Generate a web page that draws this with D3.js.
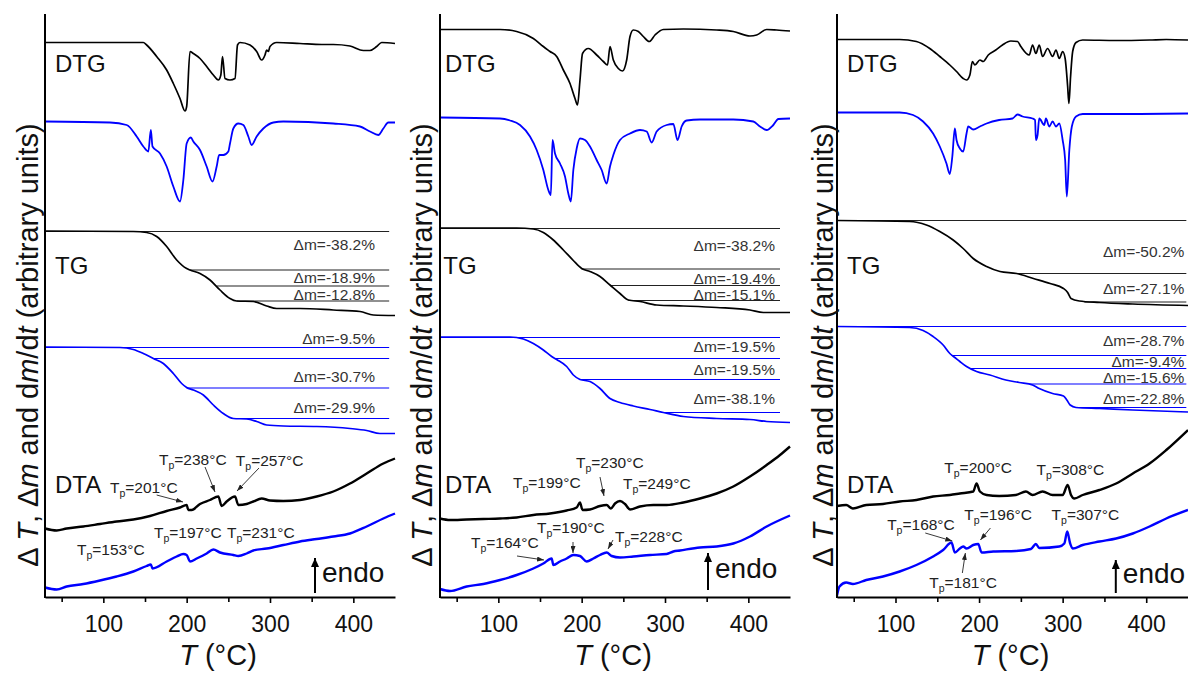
<!DOCTYPE html>
<html><head><meta charset="utf-8">
<script src="https://cdn.jsdelivr.net/npm/d3@7"></script>
<style>body{margin:0;background:#fff}svg{display:block;font-family:"Liberation Sans",Arial,sans-serif}</style>
</head><body><svg id="c" width="1188" height="673"></svg>
<script>
// ---------- axis / tick data ----------
const xDomain = [30, 450];
const yDomain = [0, 116.6];           // arbitrary units
const xTicks = [100, 200, 300, 400];
const xMinorTicks = [50, 150, 250, 350];

// ---------- Panel 1 ----------
const p1DtgBlack = [[30,110.9],[148,110.9],[152,110.4],[164,108.1],[176,105.4],[184,102.7],[192,99.7],[198,97.2],[200,98.1],[204,109.1],[208,108.7],[216,107.7],[224,106.1],[232,104.4],[238,103.4],[241,104.4],[243,108.1],[246,103.7],[252,103.4],[258,103.7],[261,110.4],[264,110.9],[276,110.4],[284,109.1],[290,107.4],[294,108.4],[296,109.4],[298,109.1],[300,110.1],[308,110.9],[336,110.7],[362,110.5],[376,110.5],[396,110.2],[412,109.3],[420,109.3],[428,110.1],[434,110.9],[450,110.7]];
const p1DtgBlue = [[30,95.1],[108,94.9],[128,94.4],[140,92.1],[148,90.1],[154,89.1],[157,93.4],[159,90.1],[168,88.7],[176,86.1],[184,82.1],[192,79.1],[196,83.4],[200,90.7],[205,91.9],[208,91.1],[216,89.4],[224,86.1],[231,83.1],[236,86.1],[239,88.4],[244,88.4],[250,89.1],[252,90.7],[256,93.7],[262,94.7],[268,94.4],[274,92.1],[278,90.4],[284,92.1],[292,93.7],[304,94.9],[316,95.1],[376,94.7],[408,94.1],[420,93.1],[430,92.4],[436,93.7],[442,94.9],[450,94.9]];
const p1TgBlack = [[30,73.2],[136,73.1],[152,72.9],[164,72.1],[176,70.1],[188,67.4],[200,65.7],[204,65.4],[216,64.7],[228,63.4],[240,61.4],[252,59.7],[260,59.2],[280,59.1],[296,58.2],[308,57.7],[336,57.7],[376,57.4],[408,57.1],[424,56.4],[450,56.3]];
const p1TgBlue = [[30,50.0],[120,49.9],[136,49.5],[148,48.7],[160,47.7],[172,46.7],[184,44.7],[194,42.7],[200,41.9],[208,41.4],[220,40.4],[232,38.4],[244,36.7],[256,35.7],[272,35.6],[284,35.1],[296,34.4],[316,34.2],[356,34.1],[396,33.7],[416,33.3],[432,32.7],[450,32.7]];
const p1DtaBlack = [[30,13.7],[44,13.3],[56,13.7],[76,14.1],[96,14.6],[116,15.1],[136,15.5],[156,16.2],[176,17.2],[192,17.9],[200,18.4],[202,17.4],[206,17.4],[216,18.6],[228,19.4],[238,20.1],[242,18.2],[248,19.1],[258,20.1],[262,18.4],[272,18.6],[280,19.1],[290,19.7],[300,19.3],[316,19.2],[336,19.4],[356,20.1],[376,21.1],[396,22.7],[416,24.7],[436,26.7],[450,27.7]];
const p1DtaBlue = [[30,1.9],[44,1.5],[56,2.1],[76,2.6],[96,3.3],[116,4.1],[136,5.1],[152,6.2],[157,6.5],[159,5.7],[176,7.1],[188,8.1],[196,8.6],[200,8.4],[204,7.1],[212,7.7],[224,8.7],[232,9.5],[240,8.9],[256,8.4],[262,8.2],[272,8.7],[280,9.3],[296,9.7],[316,10.4],[336,11.1],[356,11.6],[376,12.1],[396,12.7],[416,14.1],[436,15.7],[450,16.7]];
const p1StepsBlack = [[30,73.1],[204,65.4],[236,62.2],[260,59.2]];
const p1StepsBlue = [[30,49.9],[160,47.7],[200,41.8],[256,35.7]];
const p1MassLossBlack = ["-38.2", "-18.9", "-12.8"];
const p1MassLossBlue = ["-9.5", "-30.7", "-29.9"];
const p1PeakTemps = ["201", "238", "257", "197", "231", "153"];

// ---------- Panel 2 ----------
const p2DtgBlack = [[30,113.5],[102,113.5],[122,113.1],[142,111.7],[154,110.1],[162,109.1],[170,108.1],[178,105.4],[186,102.7],[192,99.7],[195,98.4],[198,103.4],[201,108.7],[208,109.7],[218,108.4],[226,107.1],[231,106.4],[234,110.1],[238,107.4],[244,105.7],[249,105.2],[254,107.4],[258,112.1],[262,113.4],[268,113.1],[274,112.1],[281,111.1],[288,112.4],[298,113.5],[322,113.6],[362,113.4],[382,113.1],[402,112.2],[410,112.4],[422,113.5],[434,113.4],[450,113.2]];
const p2DtgBlue = [[30,95.9],[102,95.7],[114,95.3],[126,94.4],[138,92.1],[146,89.4],[154,85.4],[160,81.4],[163,80.4],[165,91.4],[168,88.7],[174,86.7],[180,84.1],[184,80.7],[187,79.1],[190,85.4],[194,89.7],[198,91.7],[204,91.4],[210,90.1],[218,87.4],[224,85.4],[230,82.7],[234,86.1],[238,88.4],[246,91.4],[258,92.7],[270,93.4],[278,93.1],[284,90.9],[290,93.1],[302,94.4],[310,94.6],[315,91.4],[320,94.1],[326,95.3],[342,95.5],[382,95.5],[406,95.1],[414,94.1],[422,93.4],[430,94.4],[436,95.6],[450,95.7]];
const p2TgBlack = [[30,73.8],[122,73.8],[142,73.6],[154,72.9],[166,71.4],[178,69.4],[190,67.3],[200,65.7],[210,65.1],[222,64.1],[234,62.4],[246,60.7],[256,59.4],[270,59.1],[290,58.4],[322,58.2],[362,57.9],[402,57.4],[418,56.9],[450,56.9]];
const p2TgBlue = [[30,52.0],[114,52.0],[130,51.6],[142,50.7],[154,49.4],[164,48.1],[170,47.5],[182,46.1],[190,44.4],[198,43.5],[210,43.1],[222,41.7],[234,39.7],[246,38.9],[262,38.2],[282,37.5],[298,36.9],[322,36.1],[362,35.7],[402,35.5],[422,35.1],[450,34.9]];
const p2DtaBlack = [[30,15.7],[42,15.4],[62,15.5],[82,15.6],[102,15.7],[122,15.9],[142,16.4],[162,16.7],[182,17.3],[194,17.9],[198,18.9],[201,17.4],[210,17.5],[222,18.2],[230,18.4],[235,17.7],[240,18.7],[246,19.2],[252,18.6],[258,17.5],[270,18.1],[286,18.4],[302,18.4],[322,18.9],[342,19.7],[362,20.7],[382,22.1],[402,24.1],[422,26.4],[438,28.4],[450,30.1]];
const p2DtaBlue = [[30,1.6],[42,1.2],[62,2.1],[82,2.6],[102,3.4],[122,4.4],[142,5.7],[154,6.7],[164,7.7],[166,6.4],[174,7.1],[182,7.7],[190,8.4],[198,8.2],[206,7.1],[214,7.7],[222,8.4],[230,8.9],[236,8.2],[246,7.9],[262,8.1],[282,8.4],[302,8.6],[310,9.1],[318,9.3],[342,9.9],[362,10.1],[382,10.7],[402,12.1],[422,14.1],[450,16.3]];
const p2StepsBlack = [[30,73.7],[200,65.6],[234,62.3],[256,59.3]];
const p2StepsBlue = [[30,51.9],[168,47.7],[198,43.5],[298,36.9]];
const p2MassLossBlack = ["-38.2", "-19.4", "-15.1"];
const p2MassLossBlue = ["-19.5", "-19.5", "-38.1"];
const p2PeakTemps = ["199", "230", "249", "164", "190", "228"];

// ---------- Panel 3 ----------
const p3DtgBlack = [[30,111.5],[105,111.5],[125,111.1],[141,109.7],[153,108.1],[165,106.4],[173,105.1],[181,103.7],[185,103.4],[189,104.4],[192,107.1],[195,106.4],[201,107.4],[205,107.1],[211,108.4],[220,109.4],[228,110.4],[238,111.2],[246,111.1],[250,110.1],[260,108.4],[264,110.4],[268,108.7],[272,110.4],[276,108.1],[282,109.7],[288,108.1],[292,109.4],[296,107.7],[300,109.1],[303,107.7],[306,102.1],[307.5,98.7],[309.5,104.1],[312,109.1],[316,110.9],[324,111.4],[364,111.3],[404,111.4],[424,111.5],[450,111.4]];
const p3DtgBlue = [[30,96.9],[105,96.9],[121,96.4],[133,95.1],[145,92.7],[153,90.1],[161,86.7],[165,84.6],[168,88.1],[171,93.7],[173,91.4],[177,89.7],[181,89.1],[185,92.7],[187,94.1],[193,93.5],[201,94.1],[209,94.7],[224,95.4],[240,95.7],[246,96.5],[252,96.1],[264,95.7],[267,95.4],[268,91.4],[270,92.4],[272,95.7],[278,94.4],[280,95.7],[284,94.1],[288,95.1],[292,94.1],[296,94.7],[300,91.4],[303,87.4],[305,80.1],[308,89.4],[311,94.1],[316,96.1],[324,96.6],[384,96.6],[450,96.7]];
const p3TgBlack = [[30,75.3],[117,75.1],[137,74.4],[153,73.1],[169,71.4],[181,69.7],[193,67.7],[209,66.1],[225,65.1],[245,64.7],[265,63.7],[285,62.7],[301,61.7],[306,60.9],[310,59.7],[320,59.2],[344,58.9],[384,58.6],[450,58.3]];
const p3TgBlue = [[30,54.1],[117,53.9],[133,53.3],[145,52.1],[157,50.4],[165,48.7],[171,47.9],[177,47.1],[185,46.1],[197,45.1],[213,44.4],[232,43.4],[248,42.9],[264,42.4],[272,41.7],[288,40.7],[301,40.2],[305,39.4],[309,38.4],[316,37.9],[344,37.7],[384,37.4],[450,37.0]];
const p3DtaBlack = [[30,18.2],[41,18.4],[49,17.7],[65,18.4],[85,18.6],[105,19.1],[125,19.4],[145,20.1],[165,20.4],[177,20.7],[193,21.1],[197,22.7],[201,21.1],[209,20.4],[224,20.2],[244,20.4],[256,21.1],[264,20.4],[276,21.1],[288,20.4],[300,20.4],[306,22.4],[310,20.4],[314,19.7],[324,20.4],[344,21.4],[364,22.7],[384,24.7],[404,26.7],[424,29.4],[450,33.4]];
const p3DtaBlue = [[30,0.3],[33,2.1],[41,2.9],[49,2.6],[65,3.4],[85,4.1],[105,5.1],[125,6.4],[145,8.1],[157,9.4],[167,10.9],[171,8.9],[177,9.7],[181,10.1],[185,9.7],[193,10.4],[199,10.6],[203,8.9],[217,9.1],[244,9.2],[262,9.6],[268,10.6],[272,9.8],[296,10.1],[302,10.7],[305.5,13.1],[309,10.7],[312,9.7],[324,10.4],[344,11.1],[364,11.7],[384,12.7],[404,14.1],[424,15.7],[450,17.4]];
const p3StepsBlack = [[30,75.3],[245,64.7],[326,59.0]];
const p3StepsBlue = [[30,54.1],[167,48.3],[189,45.7],[260,42.6],[316,37.9]];
const p3MassLossBlack = ["-50.2", "-27.1"];
const p3MassLossBlue = ["-28.7", "-9.4", "-15.6", "-22.8"];
const p3PeakTemps = ["200", "308", "168", "196", "307", "181"];

// ---------- layout (not data) ----------
const TOP = 14, BOTTOM = 597;
const panels = [
  {left:45, right:395, titleX:38, stepEnd:443,
   dtgK:p1DtgBlack, dtgB:p1DtgBlue, tgK:p1TgBlack, tgB:p1TgBlue, dtaK:p1DtaBlack, dtaB:p1DtaBlue,
   stepsK:p1StepsBlack, stepsB:p1StepsBlue,
   dmK:p1MassLossBlack, dmB:p1MassLossBlue, dmT:426, dmKv:[69.4,62.8,59.4], dmBv:[50.6,43.0,36.8],
   labelT:42, tgLabelT:42, tp:p1PeakTemps,
   tpPos:[[108,20.8,[164,20.4,195.6,19.0]],[166.8,26.4,[222,26.0,234,21.0]],[259,26.2,[286.8,25.8,260.4,21.2]],
          [160.8,11.8,null],[248.4,11.8,null],[68.4,8.4,null]],
   endo:[354,0.8,7.8,362.4,3.0]},
  {left:440, right:790, titleX:432, stepEnd:438,
   dtgK:p2DtgBlack, dtgB:p2DtgBlue, tgK:p2TgBlack, tgB:p2TgBlue, dtaK:p2DtaBlack, dtaB:p2DtaBlue,
   stepsK:p2StepsBlack, stepsB:p2StepsBlue,
   dmK:p2MassLossBlack, dmB:p2MassLossBlue, dmT:432, dmKv:[69.2,62.6,59.4], dmBv:[49.0,44.4,38.6],
   labelT:36, tgLabelT:34, tp:p2PeakTemps,
   tpPos:[[117.6,21.8,null],[193.2,25.8,[222,24.0,226.8,20.2]],[249.6,21.6,null],
          [67.2,9.8,[122.4,8.2,154.8,7.4]],[146.4,12.8,[189.6,11.0,189.6,8.8]],[240,11.0,[237.6,11.4,231.6,9.6]]],
   endo:[351.6,1.4,8.8,360,3.8]},
  {left:837, right:1188, titleX:833, stepEnd:448,
   dtgK:p3DtgBlack, dtgB:p3DtgBlue, tgK:p3TgBlack, tgB:p3TgBlue, dtaK:p3DtaBlack, dtaB:p3DtaBlue,
   stepsK:p3StepsBlack, stepsB:p3StepsBlue,
   dmK:p3MassLossBlack, dmB:p3MassLossBlue, dmT:445.6, dmKv:[68.0,60.6], dmBv:[50.2,46.0,42.8,38.6],
   labelT:42, tgLabelT:42, tp:p3PeakTemps,
   tpPos:[[158.4,24.8,null],[268.8,24.4,null],[90,13.4,[135.6,12.8,168,11.2]],
          [182.4,15.4,[213.6,13.8,201.6,11.4]],[286.8,15.4,null],[140.4,1.8,[180,4.8,183.6,8.8]]],
   endo:[363.6,0.8,7.4,372,2.8]}
];

const BLUE = "#0000ff";
const svg = d3.select("#c");
const defs = svg.append("defs");
function marker(id, len, wid, color){
  defs.append("marker").attr("id", id)
    .attr("viewBox", `0 0 ${len} ${wid}`).attr("refX", len).attr("refY", wid/2)
    .attr("markerWidth", len).attr("markerHeight", wid)
    .attr("markerUnits", "userSpaceOnUse").attr("orient", "auto")
    .append("path").attr("d", `M0,0L${len},${wid/2}L0,${wid}Z`).attr("fill", color);
}
marker("ah", 7, 5, "#222");
marker("ahBig", 9, 8, "#000");

panels.forEach(p => {
  const x = d3.scaleLinear().domain(xDomain).range([p.left, p.right]);
  const y = d3.scaleLinear().domain(yDomain).range([BOTTOM, TOP]);
  const g = svg.append("g");
  const line = d3.line().x(d => x(d[0])).y(d => y(d[1])).curve(d3.curveMonotoneX);

  // step lines on TG
  p.stepsK.forEach(s => g.append("line").attr("x1", x(s[0])).attr("x2", x(p.stepEnd))
     .attr("y1", y(s[1])).attr("y2", y(s[1])).attr("stroke", "#222").attr("stroke-width", 1.1));
  p.stepsB.forEach(s => g.append("line").attr("x1", x(s[0])).attr("x2", x(p.stepEnd))
     .attr("y1", y(s[1])).attr("y2", y(s[1])).attr("stroke", BLUE).attr("stroke-width", 1.1));

  const curves = [[p.dtgK,"#000",1.7],[p.dtgB,BLUE,1.8],[p.tgK,"#000",1.7],[p.tgB,BLUE,1.7],[p.dtaK,"#000",2.4],[p.dtaB,BLUE,2.4]];
  curves.forEach(c => g.append("path").datum(c[0]).attr("d", line)
     .attr("fill", "none").attr("stroke", c[1]).attr("stroke-width", c[2]).attr("stroke-linejoin", "round"));

  // axes
  const ax = g.append("g").attr("transform", `translate(0,${BOTTOM})`)
    .call(d3.axisBottom(x).tickValues(xTicks).tickSize(6).tickPadding(13).tickSizeOuter(0));
  g.append("g").attr("transform", `translate(0,${BOTTOM})`)
    .call(d3.axisBottom(x).tickValues(xMinorTicks).tickSize(5).tickFormat("").tickSizeOuter(0))
    .select(".domain").remove();
  ax.select(".domain").attr("stroke-width", 2);
  g.selectAll(".tick line").attr("stroke-width", 1.6);
  ax.selectAll(".tick text").attr("font-size", 23).attr("fill", "#111")
    .attr("font-family", '"Liberation Sans",Arial,sans-serif');
  g.append("line").attr("x1", p.left).attr("x2", p.left).attr("y1", TOP).attr("y2", BOTTOM + 1)
    .attr("stroke", "#000").attr("stroke-width", 2);

  // x title
  const xt = g.append("text").attr("x", (p.left + p.right) / 2 - 2).attr("y", 665)
    .attr("text-anchor", "middle").attr("font-size", 29).attr("fill", "#111");
  xt.append("tspan").attr("font-style", "italic").text("T");
  xt.append("tspan").text(" (°C)");

  // y title
  const yt = g.append("text").attr("transform", `translate(${p.titleX},345) rotate(-90)`)
    .attr("text-anchor", "middle").attr("font-size", 29).attr("fill", "#111");
  yt.append("tspan").text("Δ ");
  yt.append("tspan").attr("font-style", "italic").text("T");
  yt.append("tspan").text(", Δ");
  yt.append("tspan").attr("font-style", "italic").text("m");
  yt.append("tspan").text(" and d");
  yt.append("tspan").attr("font-style", "italic").text("m");
  yt.append("tspan").text("/d");
  yt.append("tspan").attr("font-style", "italic").text("t");
  yt.append("tspan").text(" (arbitrary units)");

  // curve labels
  g.append("text").attr("x", x(p.labelT)).attr("y", y(105)).attr("font-size", 24).attr("fill", "#111").text("DTG");
  g.append("text").attr("x", x(p.tgLabelT)).attr("y", y(64.6)).attr("font-size", 24).attr("fill", "#111").text("TG");
  g.append("text").attr("x", x(p.labelT)).attr("y", y(20.8)).attr("font-size", 24).attr("fill", "#111").text("DTA");

  // mass loss labels
  const dm = (vals, vs) => vals.forEach((v, i) => g.append("text").attr("x", x(p.dmT)).attr("y", y(vs[i]))
      .attr("text-anchor", "end").attr("font-size", 15.5).attr("fill", "#333").text("Δm=" + v + "%"));
  dm(p.dmK, p.dmKv); dm(p.dmB, p.dmBv);

  // peak temperature labels
  p.tp.forEach((t, i) => {
    const pos = p.tpPos[i];
    const tx = g.append("text").attr("x", x(pos[0])).attr("y", y(pos[1])).attr("font-size", 15.5).attr("fill", "#222");
    tx.append("tspan").text("T");
    tx.append("tspan").attr("font-size", 10.5).attr("dy", 4).text("p");
    tx.append("tspan").attr("dy", -4).text("=" + t + "°C");
    if (pos[2]) {
      const a = pos[2];
      g.append("line").attr("x1", x(a[0])).attr("y1", y(a[1])).attr("x2", x(a[2])).attr("y2", y(a[3]))
        .attr("stroke", "#222").attr("stroke-width", 0.9).attr("marker-end", "url(#ah)");
    }
  });

  // endo arrow
  const e = p.endo;
  g.append("line").attr("x1", x(e[0])).attr("y1", y(e[1])).attr("x2", x(e[0])).attr("y2", y(e[2]))
    .attr("stroke", "#000").attr("stroke-width", 2).attr("marker-end", "url(#ahBig)");
  g.append("text").attr("x", x(e[3])).attr("y", y(e[4])).attr("font-size", 28).attr("fill", "#111").text("endo");
});
</script></body></html>
